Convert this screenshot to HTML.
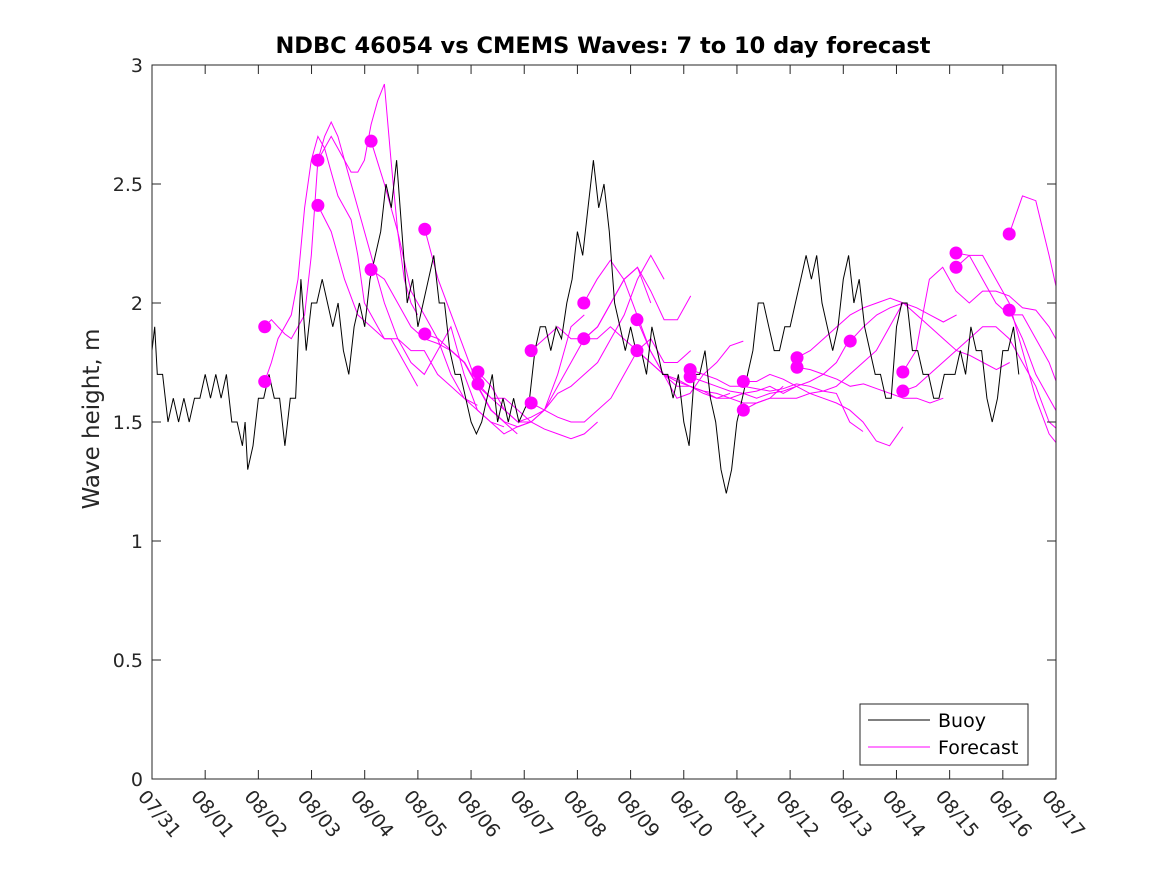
<!DOCTYPE html>
<html><head><meta charset="utf-8"><style>
body{margin:0;background:#fff;}
svg{display:block;font-family:"DejaVu Sans","Liberation Sans",sans-serif;}
</style></head><body>
<svg id="chart" width="1167" height="875" viewBox="0 0 1167 875">
<rect x="0" y="0" width="1167" height="875" fill="#fff"/>
<text x="603" y="53" text-anchor="middle" font-size="22.5" font-weight="bold" fill="#000">NDBC 46054 vs CMEMS Waves: 7 to 10 day forecast</text>
<text transform="translate(99,419) rotate(-90)" text-anchor="middle" font-size="23" fill="#262626">Wave height, m</text>
<g id="plot"></g>
</svg>
<script>
const yTicks=[0,0.5,1,1.5,2,2.5,3];
const yTickLabels=["0","0.5","1","1.5","2","2.5","3"];
const xTickLabels=["07/31","08/01","08/02","08/03","08/04","08/05","08/06","08/07","08/08","08/09","08/10","08/11","08/12","08/13","08/14","08/15","08/16","08/17"];
const buoyDays=[0,0.05,0.1,0.2,0.3,0.4,0.5,0.6,0.7,0.8,0.9,1,1.1,1.2,1.3,1.4,1.5,1.6,1.7,1.75,1.8,1.9,2,2.1,2.2,2.3,2.4,2.5,2.6,2.7,2.8,2.9,3,3.1,3.2,3.3,3.4,3.5,3.6,3.7,3.8,3.9,4,4.1,4.2,4.3,4.4,4.5,4.6,4.7,4.8,4.9,5,5.1,5.2,5.3,5.4,5.5,5.6,5.7,5.8,5.9,6,6.1,6.2,6.3,6.4,6.5,6.6,6.7,6.8,6.9,7,7.1,7.2,7.3,7.4,7.5,7.6,7.7,7.8,7.9,8,8.1,8.2,8.3,8.4,8.5,8.6,8.7,8.8,8.9,9,9.1,9.2,9.3,9.4,9.5,9.6,9.7,9.8,9.9,10,10.1,10.2,10.3,10.4,10.5,10.6,10.7,10.8,10.9,11,11.1,11.2,11.3,11.4,11.5,11.6,11.7,11.8,11.9,12,12.1,12.2,12.3,12.4,12.5,12.6,12.7,12.8,12.9,13,13.1,13.2,13.3,13.4,13.5,13.6,13.7,13.8,13.9,14,14.1,14.2,14.3,14.4,14.5,14.6,14.7,14.8,14.9,15,15.1,15.2,15.3,15.4,15.5,15.6,15.7,15.8,15.9,16,16.1,16.2,16.3];
const buoyValues=[1.8,1.9,1.7,1.7,1.5,1.6,1.5,1.6,1.5,1.6,1.6,1.7,1.6,1.7,1.6,1.7,1.5,1.5,1.4,1.5,1.3,1.4,1.6,1.6,1.7,1.6,1.6,1.4,1.6,1.6,2.1,1.8,2.0,2.0,2.1,2.0,1.9,2.0,1.8,1.7,1.9,2.0,1.9,2.1,2.2,2.3,2.5,2.4,2.6,2.3,2.0,2.1,1.9,2.0,2.1,2.2,2.0,2.0,1.8,1.7,1.7,1.6,1.5,1.45,1.5,1.6,1.7,1.5,1.6,1.5,1.6,1.5,1.55,1.6,1.8,1.9,1.9,1.8,1.9,1.85,2.0,2.1,2.3,2.2,2.4,2.6,2.4,2.5,2.3,2.0,1.9,1.8,1.9,1.8,1.8,1.7,1.9,1.8,1.7,1.7,1.6,1.7,1.5,1.4,1.7,1.7,1.8,1.6,1.5,1.3,1.2,1.3,1.5,1.6,1.7,1.8,2.0,2.0,1.9,1.8,1.8,1.9,1.9,2.0,2.1,2.2,2.1,2.2,2.0,1.9,1.8,1.9,2.1,2.2,2.0,2.1,1.9,1.8,1.7,1.7,1.6,1.6,1.9,2.0,2.0,1.8,1.8,1.7,1.7,1.6,1.6,1.7,1.7,1.7,1.8,1.7,1.9,1.8,1.8,1.6,1.5,1.6,1.8,1.8,1.9,1.7];
const fcStarts=[2.12,2.12,3.12,3.12,4.12,4.12,5.13,5.13,6.13,6.13,7.13,7.13,8.12,8.12,9.12,9.12,10.12,10.12,11.12,11.12,12.13,12.13,13.13,14.12,14.12,15.12,15.12,16.12,16.12];
const fcSteps=[0.125,0.125,0.25,0.25,0.25,0.25,0.25,0.25,0.25,0.25,0.25,0.25,0.25,0.25,0.25,0.25,0.25,0.25,0.25,0.25,0.25,0.25,0.25,0.25,0.25,0.25,0.25,0.25,0.25];
const fcValues=[
[1.9,1.93,1.9,1.87,1.85,1.9,1.95,2.2,2.6,2.7,2.76,2.7,2.6,2.55,2.55,2.6,2.75,2.85,2.92,2.6,2.3,2.1,2.0,1.95],
[1.67,1.75,1.85,1.9,1.95,2.1,2.4,2.6,2.7,2.65,2.55,2.45,2.4,2.35,2.2,2.0,1.95,1.9,1.85,1.85,1.8,1.75,1.7,1.65],
[2.6,2.7,2.6,2.4,2.2,2.0,1.85,1.75,1.7,1.8,1.9,1.7,1.55,1.5,1.48],
[2.41,2.3,2.1,1.95,1.9,1.85,1.85,1.8,1.8,1.7,1.65,1.6,1.57],
[2.68,2.5,2.3,2.05,1.95,1.85,1.7,1.6,1.55,1.5,1.45,1.48,1.5],
[2.14,2.1,2.0,1.9,1.85,1.83,1.8,1.75,1.65,1.55,1.5,1.45],
[2.31,2.1,1.95,1.8,1.65,1.6,1.6,1.55,1.5,1.47,1.45,1.43,1.45,1.5],
[1.87,1.85,1.8,1.75,1.65,1.55,1.5,1.48,1.5,1.55,1.7,1.9,1.95],
[1.71,1.65,1.55,1.5,1.5,1.55,1.65,1.75,1.85,1.9,2.0,2.1,2.15,2.0],
[1.66,1.6,1.55,1.5,1.52,1.55,1.62,1.65,1.7,1.75,1.85,1.95,2.1,2.2,2.1],
[1.8,1.85,1.9,1.85,1.85,1.9,2.0,2.1,2.15,2.05,1.93,1.93,2.03],
[1.58,1.55,1.52,1.5,1.5,1.55,1.6,1.7,1.8,1.85,1.75,1.75,1.8],
[2.0,2.1,2.18,2.1,1.95,1.8,1.7,1.6,1.62,1.7,1.75,1.82,1.84],
[1.85,1.85,1.9,1.85,1.8,1.75,1.7,1.68,1.65,1.63,1.6,1.62],
[1.93,1.8,1.7,1.67,1.65,1.62,1.6,1.6,1.62,1.63,1.65,1.62,1.65],
[1.8,1.75,1.7,1.65,1.65,1.63,1.62,1.6,1.58,1.58,1.6,1.65],
[1.72,1.7,1.68,1.65,1.65,1.64,1.63,1.64,1.66,1.65,1.63,1.62,1.5,1.46],
[1.69,1.67,1.65,1.63,1.62,1.6,1.62,1.63,1.65,1.67,1.7,1.75,1.85],
[1.67,1.67,1.7,1.68,1.65,1.62,1.63,1.65,1.7,1.75,1.8,1.9,2.0],
[1.55,1.58,1.6,1.6,1.6,1.62,1.6,1.58,1.55,1.5,1.42,1.4,1.48],
[1.77,1.8,1.85,1.9,1.95,1.98,2.0,2.02,2.0,1.98,1.95,1.92,1.95],
[1.73,1.72,1.7,1.68,1.65,1.66,1.64,1.62,1.6,1.6,1.58,1.6],
[1.84,1.9,1.95,1.98,2.0,1.95,1.9,1.85,1.8,1.78,1.75,1.72,1.75],
[1.71,1.8,2.1,2.15,2.05,2.0,2.05,2.05,2.03,1.98,1.97,1.9,1.8],
[1.63,1.65,1.7,1.75,1.8,1.85,1.9,1.9,1.85,1.75,1.65,1.5,1.45],
[2.21,2.2,2.1,2.0,1.95,1.95,1.85,1.75,1.6,1.5,1.45,1.47,1.5],
[2.15,2.2,2.2,2.1,2.0,1.8,1.6,1.45,1.38,1.4,1.35,1.3,1.22,1.18],
[2.29,2.45,2.43,2.2,1.95,1.75,1.7],
[1.97,1.85,1.7,1.6,1.5,1.38,1.34,1.37]];
const dotDays=[2.12,2.12,3.12,3.12,4.12,4.12,5.13,5.13,6.13,6.13,7.13,7.13,8.12,8.12,9.12,9.12,10.12,10.12,11.12,11.12,12.13,12.13,13.13,14.12,14.12,15.12,15.12,16.12,16.12];
const dotValues=[1.9,1.67,2.6,2.41,2.68,2.14,2.31,1.87,1.71,1.66,1.80,1.58,2.00,1.85,1.93,1.80,1.72,1.69,1.67,1.55,1.77,1.73,1.84,1.71,1.63,2.21,2.15,2.29,1.97];

const L=152,R=1056,T=65,B=779,NS="http://www.w3.org/2000/svg";
const xs=d=>L+(R-L)*d/17, ys=v=>B-(B-T)*v/3;
const g=document.getElementById('plot');
function mk(t,a){const e=document.createElementNS(NS,t);for(const k in a)e.setAttribute(k,a[k]);g.appendChild(e);return e;}
const clip=mk('clipPath',{id:'cp'});
const cr=document.createElementNS(NS,'rect');
cr.setAttribute('x',L);cr.setAttribute('y',T);cr.setAttribute('width',R-L);cr.setAttribute('height',B-T);clip.appendChild(cr);
fcValues.forEach((arr,i)=>{const pts=arr.map((v,j)=>xs(fcStarts[i]+fcSteps[i]*j).toFixed(1)+','+ys(v).toFixed(1)).join(' ');
const e=mk('polyline',{points:pts,fill:'none',stroke:'#ff00ff','stroke-width':1,'clip-path':'url(#cp)'});

});
let bp=[];buoyValues.forEach((v,i)=>{bp.push(xs(buoyDays[i]).toFixed(1)+','+ys(v).toFixed(1));});
const bl=mk('polyline',{points:bp.join(' '),fill:'none',stroke:'#000','stroke-width':1});


dotDays.forEach((d,i)=>{const c=mk('circle',{cx:xs(d),cy:ys(dotValues[i]),r:6.5,fill:'#ff00ff'});

});
const ax=mk('rect',{x:L,y:T,width:R-L,height:B-T,fill:'none',stroke:'#262626','stroke-width':1});


yTicks.forEach((v,i)=>{const y=ys(v);mk('line',{x1:L,x2:L+9,y1:y,y2:y,stroke:'#262626'});mk('line',{x1:R,x2:R-9,y1:y,y2:y,stroke:'#262626'});
const t=mk('text',{x:L-9,y:y+7,'text-anchor':'end','font-size':19,fill:'#262626'});t.textContent=yTickLabels[i];

});
xTickLabels.forEach((s,i)=>{const x=xs(i);mk('line',{x1:x,x2:x,y1:B,y2:B-9,stroke:'#262626'});mk('line',{x1:x,x2:x,y1:T,y2:T+9,stroke:'#262626'});
const t=mk('text',{x:0,y:0,transform:`translate(${x-15},${797}) rotate(50)`,'font-size':19,fill:'#262626'});t.textContent=s;

});
const lg=mk('rect',{x:860,y:704,width:168,height:61,fill:'#fff',stroke:'#262626'});


mk('line',{x1:868,x2:930,y1:720,y2:720,stroke:'#000'});
mk('line',{x1:868,x2:930,y1:747,y2:747,stroke:'#ff00ff'});
const t1=mk('text',{x:938,y:727,'font-size':19,fill:'#000'});t1.textContent='Buoy';


const t2=mk('text',{x:938,y:754,'font-size':19,fill:'#000'});t2.textContent='Forecast';


</script>
</body></html>
